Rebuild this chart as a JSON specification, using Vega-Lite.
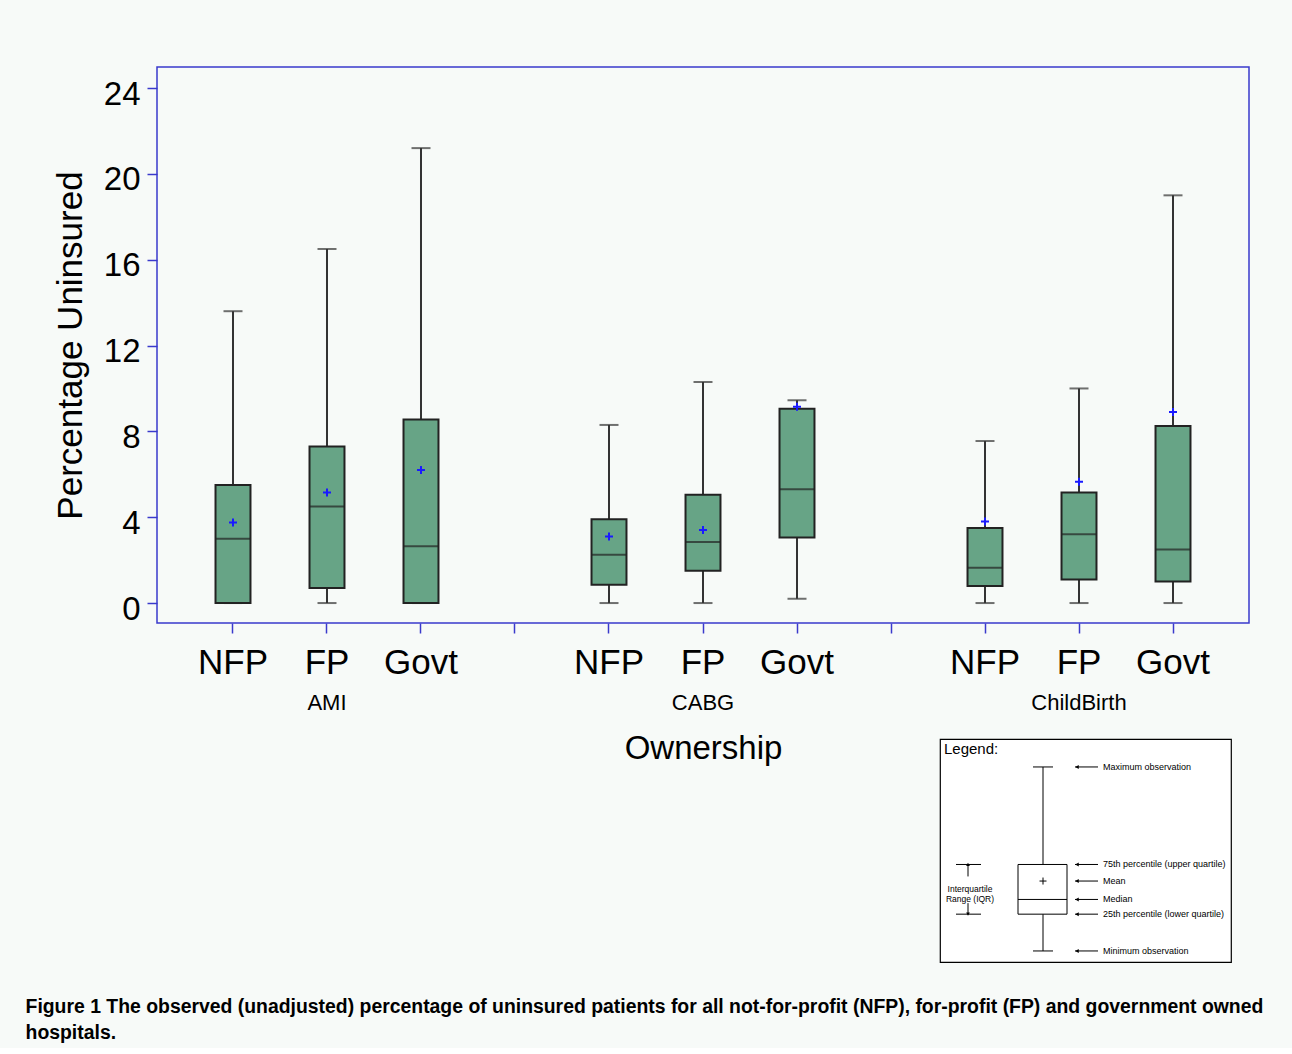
{
  "$schema": "https://vega.github.io/schema/vega-lite/v6.json",
  "background": "#f7faf8",
  "padding": {"left": 25, "top": 66, "right": 45, "bottom": 6},
  "config": {
    "view": {"stroke": null},
    "font": "Liberation Sans",
    "axis": {"labelColor": "black", "titleColor": "black", "grid": false}
  },
  "datasets": {
    "boxes": [
      {"key": "AMI|NFP", "procedure": "AMI", "ownership": "NFP", "min": 0, "q1": 0, "median": 3.0, "mean": 3.75, "q3": 5.5, "max": 13.6},
      {"key": "AMI|FP", "procedure": "AMI", "ownership": "FP", "min": 0, "q1": 0.7, "median": 4.5, "mean": 5.15, "q3": 7.3, "max": 16.5},
      {"key": "AMI|Govt", "procedure": "AMI", "ownership": "Govt", "min": 0, "q1": 0, "median": 2.65, "mean": 6.2, "q3": 8.55, "max": 21.2},
      {"key": "CABG|NFP", "procedure": "CABG", "ownership": "NFP", "min": 0, "q1": 0.85, "median": 2.25, "mean": 3.1, "q3": 3.9, "max": 8.3},
      {"key": "CABG|FP", "procedure": "CABG", "ownership": "FP", "min": 0, "q1": 1.5, "median": 2.85, "mean": 3.4, "q3": 5.05, "max": 10.3},
      {"key": "CABG|Govt", "procedure": "CABG", "ownership": "Govt", "min": 0.2, "q1": 3.05, "median": 5.3, "mean": 9.15, "q3": 9.05, "max": 9.45},
      {"key": "ChildBirth|NFP", "procedure": "ChildBirth", "ownership": "NFP", "min": 0, "q1": 0.8, "median": 1.65, "mean": 3.8, "q3": 3.5, "max": 7.55},
      {"key": "ChildBirth|FP", "procedure": "ChildBirth", "ownership": "FP", "min": 0, "q1": 1.1, "median": 3.2, "mean": 5.65, "q3": 5.15, "max": 10.0},
      {"key": "ChildBirth|Govt", "procedure": "ChildBirth", "ownership": "Govt", "min": 0, "q1": 1.0, "median": 2.5, "mean": 8.9, "q3": 8.25, "max": 19.0}
    ],
    "legendStats": [
      {"min": 0, "q1": 2.0, "median": 2.8, "mean": 3.8, "q3": 4.7, "max": 10.0}
    ],
    "legendNotes": [
      {"label": "Maximum observation", "v": 10.0},
      {"label": "75th percentile (upper quartile)", "v": 4.7},
      {"label": "Mean", "v": 3.8},
      {"label": "Median", "v": 2.8},
      {"label": "25th percentile (lower quartile)", "v": 2.0},
      {"label": "Minimum observation", "v": 0}
    ]
  },
  "title": {
    "text": ["Figure 1 The observed (unadjusted) percentage of uninsured patients for all not-for-profit (NFP), for-profit (FP) and government owned", "hospitals."],
    "orient": "bottom",
    "anchor": "start",
    "font": "Liberation Sans",
    "fontSize": 19.4,
    "fontWeight": "bold",
    "lineHeight": 26,
    "offset": 35,
    "dx": -27,
    "color": "black"
  },
  "bounds": "flush",
  "spacing": 116,
  "vconcat": [
    {
      "width": 1092,
      "height": 556,
      "view": {"stroke": "#3a3acc", "strokeWidth": 1.5, "fill": "#f7faf8"},
      "data": {"name": "boxes"},
      "resolve": {"scale": {"x": "independent"}, "axis": {"x": "independent"}},
      "layer": [
        {
          "encoding": {
            "x": {
              "field": "key", "type": "nominal",
              "scale": {"type": "band", "domain": ["AMI|NFP", "AMI|FP", "AMI|Govt", "gap1", "CABG|NFP", "CABG|FP", "CABG|Govt", "gap2", "ChildBirth|NFP", "ChildBirth|FP", "ChildBirth|Govt"], "paddingInner": 0.628, "paddingOuter": 0.6225},
              "axis": {
                "title": null, "orient": "bottom",
                "labelExpr": "indexof(datum.value, '|') > 0 ? split(datum.value, '|')[1] : ''",
                "labelFontSize": 35, "labelAngle": 0, "labelPadding": 12,
                "tickColor": "#3a3acc", "tickSize": 10, "tickWidth": 1.5, "domain": false
              }
            }
          },
          "layer": [
            {
              "mark": {"type": "rule", "color": "#333333", "strokeWidth": 2},
              "encoding": {
                "y": {
                  "field": "min", "type": "quantitative",
                  "scale": {"domain": [-0.93, 24.98], "nice": false, "zero": false},
                  "axis": {
                    "title": "Percentage Uninsured", "titleFontSize": 35, "titleFontWeight": "normal",
                    "titlePadding": 15, "values": [0, 4, 8, 12, 16, 20, 24],
                    "labelFontSize": 33, "labelPadding": 7, "labelOffset": 6,
                    "tickColor": "#3a3acc", "tickSize": 10, "tickWidth": 1.5, "domain": false
                  }
                },
                "y2": {"field": "max"}
              }
            },
            {
              "mark": {"type": "tick", "color": "#333333", "thickness": 2, "size": 19},
              "encoding": {"y": {"field": "max", "type": "quantitative"}}
            },
            {
              "mark": {"type": "tick", "color": "#333333", "thickness": 2, "size": 19},
              "encoding": {"y": {"field": "min", "type": "quantitative"}}
            },
            {
              "mark": {"type": "bar", "fill": "#67a486", "stroke": "#222222", "strokeWidth": 2},
              "encoding": {"y": {"field": "q1", "type": "quantitative"}, "y2": {"field": "q3"}}
            },
            {
              "mark": {"type": "tick", "color": "#222222", "thickness": 2, "size": 35},
              "encoding": {"y": {"field": "median", "type": "quantitative"}}
            }
          ]
        },
        {
          "mark": {"type": "point", "shape": "M -1 0 L 1 0 M 0 -1 L 0 1", "filled": false, "stroke": "#1a1aff", "strokeWidth": 2, "size": 64, "opacity": 1},
          "encoding": {
            "x": {
              "field": "key", "type": "nominal",
              "scale": {"type": "band", "domain": ["AMI|NFP", "AMI|FP", "AMI|Govt", "gap1", "CABG|NFP", "CABG|FP", "CABG|Govt", "gap2", "ChildBirth|NFP", "ChildBirth|FP", "ChildBirth|Govt"], "paddingInner": 0.628, "paddingOuter": 0.6225},
              "axis": {
                "orient": "bottom", "offset": 69, "ticks": false, "tickSize": 0, "domain": false,
                "labelExpr": "datum.value == 'AMI|FP' ? 'AMI' : datum.value == 'CABG|FP' ? 'CABG' : datum.value == 'ChildBirth|FP' ? 'ChildBirth' : ''",
                "labelFontSize": 22, "labelAngle": 0, "labelPadding": 0,
                "title": "Ownership", "titleFontSize": 33, "titleFontWeight": "normal", "titlePadding": 19
              }
            },
            "y": {"field": "mean", "type": "quantitative"}
          }
        }
      ]
    },
    {
      "bounds": "flush",
      "spacing": 0,
      "hconcat": [
        {
          "width": 783, "height": 223,
          "data": {"values": [{"a": 1}]},
          "mark": {"type": "point", "opacity": 0},
          "encoding": {}
        },
        {
          "width": 291, "height": 223,
          "view": {"stroke": "black", "strokeWidth": 1.2, "fill": "white"},
          "layer": [
            {
              "data": {"name": "legendStats"},
              "mark": {"type": "rule", "color": "black", "strokeWidth": 1},
              "encoding": {
                "x": {"datum": 10.3, "type": "quantitative", "scale": {"domain": [0, 29.1], "nice": false, "zero": false}, "axis": null},
                "y": {"field": "min", "type": "quantitative", "scale": {"domain": [-0.6, 11.52], "nice": false, "zero": false}, "axis": null},
                "y2": {"field": "max"}
              }
            },
            {
              "data": {"name": "legendStats"},
              "mark": {"type": "rule", "color": "black", "strokeWidth": 1},
              "encoding": {
                "x": {"datum": 9.3, "type": "quantitative"}, "x2": {"datum": 11.3},
                "y": {"field": "max", "type": "quantitative"}
              }
            },
            {
              "data": {"name": "legendStats"},
              "mark": {"type": "rule", "color": "black", "strokeWidth": 1},
              "encoding": {
                "x": {"datum": 9.3, "type": "quantitative"}, "x2": {"datum": 11.3},
                "y": {"field": "min", "type": "quantitative"}
              }
            },
            {
              "data": {"name": "legendStats"},
              "mark": {"type": "rect", "fill": "white", "stroke": "black", "strokeWidth": 1},
              "encoding": {
                "x": {"datum": 7.8, "type": "quantitative"}, "x2": {"datum": 12.7},
                "y": {"field": "q1", "type": "quantitative"}, "y2": {"field": "q3"}
              }
            },
            {
              "data": {"name": "legendStats"},
              "mark": {"type": "rule", "color": "black", "strokeWidth": 1},
              "encoding": {
                "x": {"datum": 7.8, "type": "quantitative"}, "x2": {"datum": 12.7},
                "y": {"field": "median", "type": "quantitative"}
              }
            },
            {
              "data": {"name": "legendStats"},
              "mark": {"type": "point", "shape": "M -1 0 L 1 0 M 0 -1 L 0 1", "filled": false, "stroke": "black", "strokeWidth": 1, "size": 49, "opacity": 1},
              "encoding": {
                "x": {"datum": 10.3, "type": "quantitative"},
                "y": {"field": "mean", "type": "quantitative"}
              }
            },
            {
              "data": {"name": "legendStats"},
              "mark": {"type": "rule", "color": "black", "strokeWidth": 1},
              "encoding": {
                "x": {"datum": 1.6, "type": "quantitative"}, "x2": {"datum": 4.1},
                "y": {"field": "q3", "type": "quantitative"}
              }
            },
            {
              "data": {"name": "legendStats"},
              "mark": {"type": "rule", "color": "black", "strokeWidth": 1},
              "encoding": {
                "x": {"datum": 1.6, "type": "quantitative"}, "x2": {"datum": 4.1},
                "y": {"field": "q1", "type": "quantitative"}
              }
            },
            {
              "data": {"name": "legendStats"},
              "mark": {"type": "rule", "color": "black", "strokeWidth": 1},
              "encoding": {
                "x": {"datum": 2.8, "type": "quantitative"},
                "y": {"field": "q3", "type": "quantitative"}, "y2": {"datum": 4.05}
              }
            },
            {
              "data": {"name": "legendStats"},
              "mark": {"type": "rule", "color": "black", "strokeWidth": 1},
              "encoding": {
                "x": {"datum": 2.8, "type": "quantitative"},
                "y": {"field": "q1", "type": "quantitative"}, "y2": {"datum": 2.6}
              }
            },
            {
              "data": {"name": "legendStats"},
              "mark": {"type": "point", "shape": "triangle-up", "filled": true, "color": "black", "size": 14, "opacity": 1, "dy": 3},
              "encoding": {
                "x": {"datum": 2.8, "type": "quantitative"},
                "y": {"field": "q3", "type": "quantitative"}
              }
            },
            {
              "data": {"name": "legendStats"},
              "mark": {"type": "point", "shape": "triangle-down", "filled": true, "color": "black", "size": 14, "opacity": 1, "dy": -3},
              "encoding": {
                "x": {"datum": 2.8, "type": "quantitative"},
                "y": {"field": "q1", "type": "quantitative"}
              }
            },
            {
              "data": {"name": "legendStats"},
              "mark": {"type": "text", "text": ["Interquartile", "Range (IQR)"], "fontSize": 8.5, "lineHeight": 10, "align": "center", "baseline": "middle", "color": "black"},
              "encoding": {
                "x": {"datum": 3.0, "type": "quantitative"},
                "y": {"datum": 3.37, "type": "quantitative"}
              }
            },
            {
              "data": {"name": "legendStats"},
              "mark": {"type": "text", "text": "Legend:", "fontSize": 15, "align": "left", "baseline": "middle", "color": "black"},
              "encoding": {
                "x": {"datum": 0.4, "type": "quantitative"},
                "y": {"datum": 10.98, "type": "quantitative"}
              }
            },
            {
              "data": {"name": "legendNotes"},
              "mark": {"type": "rule", "color": "black", "strokeWidth": 1},
              "encoding": {
                "x": {"datum": 13.5, "type": "quantitative"}, "x2": {"datum": 15.8},
                "y": {"field": "v", "type": "quantitative"}
              }
            },
            {
              "data": {"name": "legendNotes"},
              "mark": {"type": "point", "shape": "triangle-left", "filled": true, "color": "black", "size": 16, "opacity": 1},
              "encoding": {
                "x": {"datum": 13.7, "type": "quantitative"},
                "y": {"field": "v", "type": "quantitative"}
              }
            },
            {
              "data": {"name": "legendNotes"},
              "mark": {"type": "text", "fontSize": 9, "align": "left", "baseline": "middle", "color": "black"},
              "encoding": {
                "x": {"datum": 16.3, "type": "quantitative"},
                "y": {"field": "v", "type": "quantitative"},
                "text": {"field": "label"}
              }
            }
          ]
        }
      ]
    }
  ]
}
